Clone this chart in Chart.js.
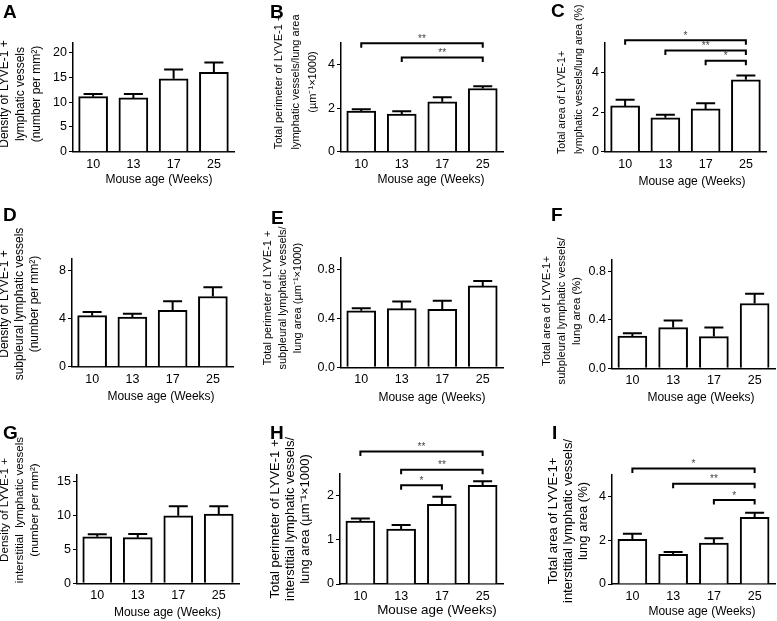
<!DOCTYPE html>
<html>
<head>
<meta charset="utf-8">
<script src="https://cdn.jsdelivr.net/npm/chart.js@4.4.1/dist/chart.umd.min.js"></script>
<style>
    body { margin: 0; background: #fff; }
    #fig { position: relative; width: 777px; height: 621px; overflow: hidden; }
    #fig canvas { position: absolute; left: 0; top: 0; }
    .tag { position: absolute; font: bold 19px "Liberation Sans", Arial, sans-serif; line-height: 1; color: #000; }
</style>
</head>
<body>
<div id="fig"></div>
<script>
var FONT = '"Liberation Sans", Arial, sans-serif';
Chart.defaults.font.family = FONT;
Chart.defaults.color = '#000';

var ages = ['10', '13', '17', '25'];
var xTitle = 'Mouse age (Weeks)';

// A - all LYVE-1+ vessels, density
var densityAll = [11.1, 10.85, 14.7, 16.0];
var densityAllSem = [0.55, 0.8, 1.9, 2.0];
var densityAllTicks = ['0', '5', '10', '15', '20'];

// B - all vessels, perimeter / lung area
var perimeterAll = [1.86, 1.72, 2.29, 2.9];
var perimeterAllSem = [0.09, 0.14, 0.21, 0.1];
var perimeterAllTicks = ['0', '2', '4'];
var perimeterAllSig = [[0, 3, 4.97, '**'], [1, 3, 4.32, '**']];

// C - all vessels, area / lung area
var areaAll = [2.31, 1.71, 2.16, 3.63];
var areaAllSem = [0.31, 0.15, 0.29, 0.22];
var areaAllTicks = ['0', '2', '4'];
var areaAllSig = [[0, 3, 5.62, '*'], [1, 3, 5.11, '**'], [2, 3, 4.59, '*']];

// D - subpleural, density
var densitySub = [4.24, 4.12, 4.68, 5.83];
var densitySubSem = [0.31, 0.28, 0.75, 0.77];
var densitySubTicks = ['0', '4', '8'];

// E - subpleural, perimeter
var perimeterSub = [0.463, 0.48, 0.474, 0.666];
var perimeterSubSem = [0.02, 0.058, 0.071, 0.041];
var perimeterSubTicks = ['0.0', '0.4', '0.8'];

// F - subpleural, area
var areaSub = [0.267, 0.336, 0.262, 0.535];
var areaSubSem = [0.023, 0.058, 0.074, 0.08];
var areaSubTicks = ['0.0', '0.4', '0.8'];

// G - interstitial, density
var densityInt = [6.88, 6.74, 9.98, 10.24];
var densityIntSem = [0.36, 0.54, 1.42, 1.16];
var densityIntTicks = ['0', '5', '10', '15'];

// H - interstitial, perimeter
var perimeterInt = [1.42, 1.24, 1.8, 2.23];
var perimeterIntSem = [0.06, 0.09, 0.17, 0.09];
var perimeterIntTicks = ['0', '1', '2'];
var perimeterIntSig = [[0, 3, 2.99, '**'], [1, 3, 2.58, '**'], [1, 2, 2.23, '*']];

// I - interstitial, area
var areaInt = [2.05, 1.36, 1.88, 3.06];
var areaIntSem = [0.25, 0.11, 0.22, 0.21];
var areaIntTicks = ['0', '2', '4'];
var areaIntSig = [[0, 3, 5.3, '*'], [1, 3, 4.6, '**'], [2, 3, 3.85, '*']];

// area = [left, right, top, bottom] of the plot box in page pixels
var panels = [
    { tag: 'A', tagAt: [3, 2], area: [73, 234, 42.7, 151.7], max: 22,
      values: densityAll, sem: densityAllSem, ticks: densityAllTicks, sig: [],
      yTitle: ['Density of LYVE-1 +', 'lymphatic vessels', '(number per mm\u00B2)'],
      yAt: [5, 94], ySize: 12, yGap: 15.8, xAt: [159, 180], xSize: 12 },
    { tag: 'B', tagAt: [270, 2], area: [341, 503, 42.7, 151.7], max: 5,
      values: perimeterAll, sem: perimeterAllSem, ticks: perimeterAllTicks, sig: perimeterAllSig,
      yTitle: ['Total perimeter of LYVE-1 +', 'lymphatic vessels/lung area', '(\u00B5m\u207B\u00B9\u00D71000)'],
      yAt: [279, 82], ySize: 11, yGap: 17, xAt: [431, 180], xSize: 12 },
    { tag: 'C', tagAt: [551, 1], area: [605, 766, 42.7, 151.7], max: 5.5,
      values: areaAll, sem: areaAllSem, ticks: areaAllTicks, sig: areaAllSig,
      yTitle: ['Total area of LYVE-1+', 'lymphatic vessels/lung area (%)'],
      yAt: [562, 154], yAlign: 'left', ySize: 10.6, yGap: 17, xAt: [692, 181.5], xSize: 12 },
    { tag: 'D', tagAt: [3, 205], area: [72, 233, 258.3, 366.7], max: 9,
      values: densitySub, sem: densitySubSem, ticks: densitySubTicks, sig: [],
      yTitle: ['Density of LYVE-1 +', 'subpleural lymphatic vessels', '(number per mm\u00B2)'],
      yAt: [5, 304], ySize: 12, yGap: 15, xAt: [161, 396.5], xSize: 12 },
    { tag: 'E', tagAt: [271, 208], area: [341, 503, 257.3, 367.3], max: 0.9,
      values: perimeterSub, sem: perimeterSubSem, ticks: perimeterSubTicks, sig: [],
      yTitle: ['Total perimeter of LYVE-1 +', 'subpleural lymphatic vessels/', 'lung area (\u00B5m\u207B\u00B9\u00D71000)'],
      yAt: [268, 298], ySize: 11, yGap: 15, xAt: [432, 398], xSize: 12 },
    { tag: 'F', tagAt: [551, 205], area: [612, 775, 259.3, 368.3], max: 0.9,
      values: areaSub, sem: areaSubSem, ticks: areaSubTicks, sig: [],
      yTitle: ['Total area of LYVE-1+', 'subpleural lymphatic vessels/', 'lung area (%)'],
      yAt: [547, 311], ySize: 11.3, yGap: 15, xAt: [701, 398], xSize: 12 },
    { tag: 'G', tagAt: [3, 423], area: [77, 239, 475, 583.3], max: 16,
      values: densityInt, sem: densityIntSem, ticks: densityIntTicks, sig: [],
      yTitle: ['Density of LYVE-1 +', 'interstitial  lymphatic vessels', '(number per mm\u00B2)'],
      yAt: [5, 510], ySize: 11.6, yGap: 15, xAt: [167.5, 613], xSize: 12 },
    { tag: 'H', tagAt: [270, 423], area: [340, 503, 473.3, 584], max: 2.5,
      values: perimeterInt, sem: perimeterIntSem, ticks: perimeterIntTicks, sig: perimeterIntSig,
      yTitle: ['Total perimeter of LYVE-1 +', 'interstitial lymphatic vessels/', 'lung area (\u00B5m\u207B\u00B9\u00D71000)'],
      yAt: [275, 519], ySize: 13, yGap: 15, xAt: [437, 610], xSize: 13.4 },
    { tag: 'I', tagAt: [552, 423], area: [612, 775, 475, 584], max: 5,
      values: areaInt, sem: areaIntSem, ticks: areaIntTicks, sig: areaIntSig,
      yTitle: ['Total area of LYVE-1+', 'interstitial lymphatic vessels/', 'lung area (%)'],
      yAt: [553, 521], ySize: 13, yGap: 15, xAt: [702, 611.5], xSize: 12 }
];

// error bars, significance brackets and axis titles
function decor(p) {
    return {
        id: 'decor',
        afterDatasetsDraw: function (chart) {
            var ctx = chart.ctx;
            var xs = chart.scales.x, ys = chart.scales.y;
            var bars = chart.getDatasetMeta(0).data;

            ctx.save();
            ctx.strokeStyle = '#000';
            ctx.lineWidth = 2;
            bars.forEach(function (bar, i) {
                var top = ys.getPixelForValue(p.values[i] + p.sem[i]);
                ctx.beginPath();
                ctx.moveTo(bar.x, bar.y);
                ctx.lineTo(bar.x, top);
                ctx.moveTo(bar.x - 9.5, top);
                ctx.lineTo(bar.x + 9.5, top);
                ctx.stroke();
            });

            p.sig.forEach(function (s) {
                var x1 = xs.getPixelForValue(s[0]);
                var x2 = xs.getPixelForValue(s[1]);
                var y = ys.getPixelForValue(s[2]);
                ctx.beginPath();
                ctx.moveTo(x1, y + 4.5);
                ctx.lineTo(x1, y);
                ctx.lineTo(x2, y);
                ctx.lineTo(x2, y + 4.5);
                ctx.stroke();
                ctx.fillStyle = '#444';
                ctx.font = '10px ' + FONT;
                ctx.textAlign = 'center';
                ctx.textBaseline = 'alphabetic';
                ctx.fillText(s[3], (x1 + x2) / 2, y - 1.5);
            });

            ctx.fillStyle = '#000';
            ctx.font = p.ySize + 'px ' + FONT;
            p.yTitle.forEach(function (line, k) {
                ctx.save();
                ctx.translate(p.yAt[0] + k * p.yGap, p.yAt[1]);
                ctx.rotate(-Math.PI / 2);
                ctx.textAlign = p.yAlign || 'center';
                ctx.textBaseline = 'middle';
                ctx.fillText(line, 0, 0);
                ctx.restore();
            });

            ctx.font = p.xSize + 'px ' + FONT;
            ctx.textAlign = 'center';
            ctx.textBaseline = 'middle';
            ctx.fillText(xTitle, p.xAt[0], p.xAt[1]);
            ctx.restore();
        }
    };
}

var fig = document.getElementById('fig');

panels.forEach(function (p) {
    var cv = document.createElement('canvas');
    cv.width = 777;
    cv.height = 621;
    fig.appendChild(cv);

    var tag = document.createElement('div');
    tag.className = 'tag';
    tag.textContent = p.tag;
    tag.style.left = p.tagAt[0] + 'px';
    tag.style.top = p.tagAt[1] + 'px';
    fig.appendChild(tag);

    var yw = 45, xh = 25;
    new Chart(cv, {
        type: 'bar',
        data: {
            labels: ages,
            datasets: [{
                data: p.values,
                backgroundColor: '#fff',
                borderColor: '#000',
                borderWidth: 2,
                barThickness: 29
            }]
        },
        options: {
            responsive: false,
            animation: false,
            events: [],
            layout: {
                padding: {
                    left: p.area[0] - yw,
                    right: 777 - p.area[1],
                    top: p.area[2],
                    bottom: 621 - p.area[3] - xh
                }
            },
            plugins: { legend: { display: false }, tooltip: { enabled: false } },
            scales: {
                x: {
                    grid: { display: false, drawTicks: false },
                    border: { color: '#000', width: 1.5 },
                    ticks: { padding: 5, font: { size: 12.5 }, color: '#000' },
                    afterFit: function (s) { s.height = xh; }
                },
                y: {
                    min: 0,
                    max: p.max,
                    grid: { drawOnChartArea: false, tickLength: 4, color: '#000', lineWidth: 1 },
                    border: { color: '#000', width: 1.5 },
                    ticks: {
                        padding: 2,
                        font: { size: 12.5 },
                        color: '#000',
                        callback: function (v, i) { return p.ticks[i]; }
                    },
                    afterBuildTicks: function (s) {
                        s.ticks = p.ticks.map(function (t) { return { value: parseFloat(t) }; });
                    },
                    afterFit: function (s) { s.width = yw; }
                }
            }
        },
        plugins: [decor(p)]
    });
});
</script>
</body>
</html>
